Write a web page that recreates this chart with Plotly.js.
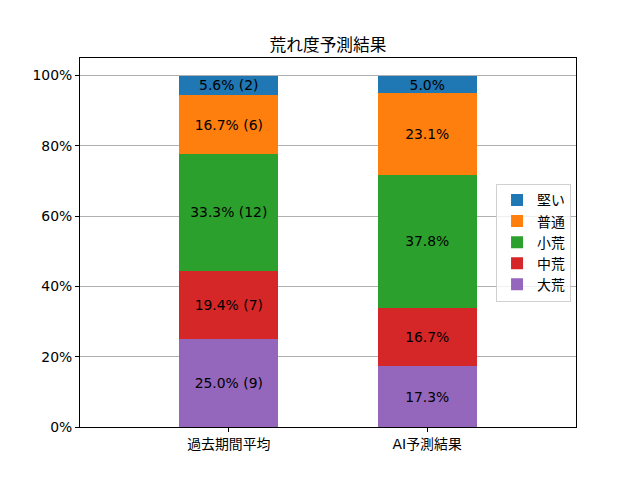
<!DOCTYPE html>
<html>
<head>
<meta charset="utf-8">
<script src="https://cdn.plot.ly/plotly-3.0.1.min.js"></script>
<style>html,body{margin:0;padding:0;background:#fff;}#chart{width:640px;height:480px;}</style>
</head>
<body>
<div id="chart"></div>
<script>
// 荒れ度予測結果 — stacked 100% bars
const categories = ['過去期間平均', 'AI予測結果'];
const levels = ['大荒', '中荒', '小荒', '普通', '堅い'];
const colors = ['#9467bd', '#d62728', '#2ca02c', '#ff7f0e', '#1f77b4'];
const pastPct = [25.0, 19.4, 33.3, 16.7, 5.6];
const pastCount = [9, 7, 12, 6, 2];
const aiPct = [17.3, 16.7, 37.8, 23.1, 5.0];
const yTicks = [0, 20, 40, 60, 80, 100];

const font = 'DejaVu Sans, Noto Sans CJK JP, sans-serif';

const data = levels.map((name, i) => ({
  type: 'bar',
  name: name,
  x: categories,
  y: [pastPct[i], aiPct[i]],
  width: 0.5,
  text: [pastPct[i].toFixed(1) + '% (' + pastCount[i] + ')', aiPct[i].toFixed(1) + '%'],
  textposition: 'inside',
  insidetextanchor: 'middle',
  textangle: 0,
  constraintext: 'none',
  textfont: { color: '#000', size: 13.9, family: font },
  marker: { color: colors[i], line: { width: 0 } },
  hoverinfo: 'skip'
}));

const layout = {
  width: 640, height: 480,
  paper_bgcolor: '#fff', plot_bgcolor: '#fff',
  font: { family: font, size: 13.9, color: '#000' },
  margin: { l: 80, r: 64, t: 58, b: 53 },
  barmode: 'stack',
  title: { text: '荒れ度予測結果', x: 0.5, xref: 'paper', y: 1, yref: 'paper', yanchor: 'bottom', pad: { b: 7 }, font: { size: 16.7, family: font } },
  xaxis: {
    range: [-0.75, 1.75], showline: true, mirror: true, linecolor: '#000', linewidth: 1,
    ticks: 'outside', ticklen: 4, tickcolor: '#000', showgrid: false, zeroline: false,
    tickfont: { size: 13.9 }
  },
  yaxis: {
    range: [0, 105], tickmode: 'array', tickvals: yTicks, ticktext: yTicks.map(v => v + '%'),
    showline: true, mirror: true, linecolor: '#000', linewidth: 1,
    ticks: 'outside', ticklen: 4, tickcolor: '#000',
    showgrid: true, gridcolor: '#b0b0b0', gridwidth: 1, zeroline: false,
    tickfont: { size: 13.9 }
  },
  legend: {
    traceorder: 'reversed', x: 0.99, xanchor: 'right', y: 0.5, yanchor: 'middle',
    bgcolor: 'rgba(255,255,255,0.8)', bordercolor: '#d0d0d0', borderwidth: 1,
    font: { size: 13.9 }, itemwidth: 30
  },
  showlegend: true
};

Plotly.newPlot('chart', data, layout, { displayModeBar: false, staticPlot: true });
</script>
</body>
</html>
